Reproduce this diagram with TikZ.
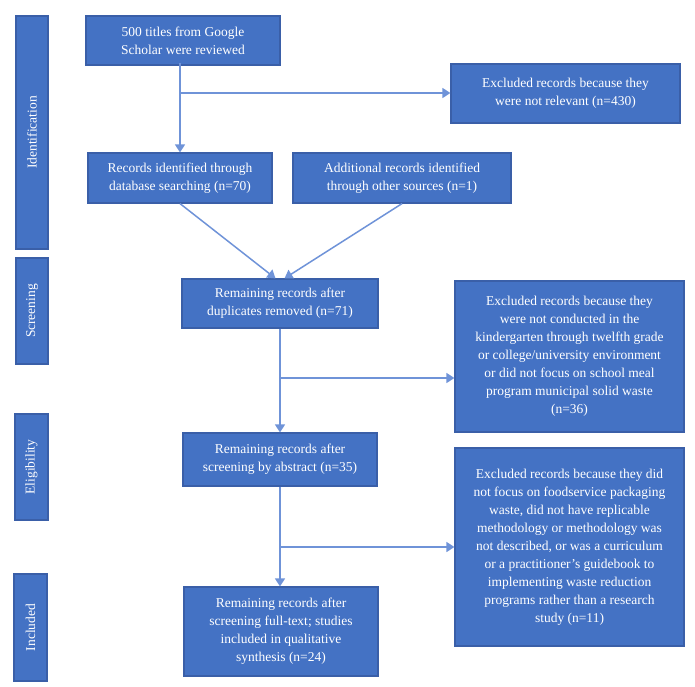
\documentclass[tikz,border=0pt]{standalone}
\usepackage{fontspec}
\setmainfont{Liberation Serif}
\usetikzlibrary{arrows.meta,calc}
\definecolor{boxfill}{HTML}{4472C4}
\definecolor{boxline}{HTML}{3A5FA8}
\definecolor{conn}{HTML}{6F93D8}
\begin{document}
\begin{tikzpicture}[x=1pt,y=-1pt,
  box/.style={draw=boxline,line width=1.2pt,fill=boxfill,text=white,align=center,
    inner sep=0pt,font=\fontsize{13.5}{18}\selectfont},
  side/.style={box,rotate=90},
  arr/.style={draw=conn,line width=1.5pt,-{Triangle[width=10pt,length=8pt]}}]
\useasboundingbox (0,0) rectangle (695,686);
% side labels
\node[side,minimum width=233,minimum height=32] (ident) at (32,132.5) {Identification};
\node[side,minimum width=106,minimum height=32] (screen) at (32,311) {Screening};
\node[side,minimum width=106,minimum height=33] (elig) at (31.5,467) {Eligibility};
\node[side,minimum width=107,minimum height=33] (incl) at (30.5,627.5) {Included};
% boxes
\node[box,minimum width=194,minimum height=49] (b1) at (183,40.5) {500 titles from Google\\Scholar were reviewed};
\node[box,minimum width=229,minimum height=59] (ex1) at (565.5,93.5) {Excluded records because they\\were not relevant (n=430)};
\node[box,minimum width=184,minimum height=50] (rid) at (180,178) {Records identified through\\database searching (n=70)};
\node[box,minimum width=218,minimum height=50] (add) at (402,178) {Additional records identified\\through other sources (n=1)};
\node[box,minimum width=196,minimum height=49] (dup) at (280,303.5) {Remaining records after\\duplicates removed (n=71)};
\node[box,minimum width=229,minimum height=151] (ex2) at (569.5,356.5) {Excluded records because they\\were not conducted in the\\kindergarten through twelfth grade\\or college/university environment\\or did not focus on school meal\\program municipal solid waste\\(n=36)};
\node[box,minimum width=194,minimum height=53] (abs) at (280,459.5) {Remaining records after\\screening by abstract (n=35)};
\node[box,minimum width=229,minimum height=198] (ex3) at (569.5,547) {Excluded records because they did\\not focus on foodservice packaging\\waste, did not have replicable\\methodology or methodology was\\not described, or was a curriculum\\or a practitioner's guidebook to\\implementing waste reduction\\programs rather than a research\\study (n=11)};
\node[box,minimum width=194,minimum height=89] (fin) at (281,631.5) {Remaining records after\\screening full-text; studies\\included in qualitative\\synthesis (n=24)};
% connectors
\coordinate (br1) at (180,93);
\coordinate (br2) at (280,378);
\coordinate (br3) at (280,547);
\draw[arr] ([yshift=3]b1.south -| rid.north) -- (rid.north);
\draw[arr] (br1) -- (br1 -| ex1.west);
\draw[arr] (rid.south) -- ([xshift=-4.5]dup.north);
\draw[arr] (add.south) -- ([xshift=4.5]dup.north);
\draw[arr] (dup.south) -- (dup.south |- abs.north);
\draw[arr] (br2) -- (br2 -| ex2.west);
\draw[arr] (abs.south) -- (abs.south |- fin.north);
\draw[arr] (br3) -- (br3 -| ex3.west);
\end{tikzpicture}
\end{document}
